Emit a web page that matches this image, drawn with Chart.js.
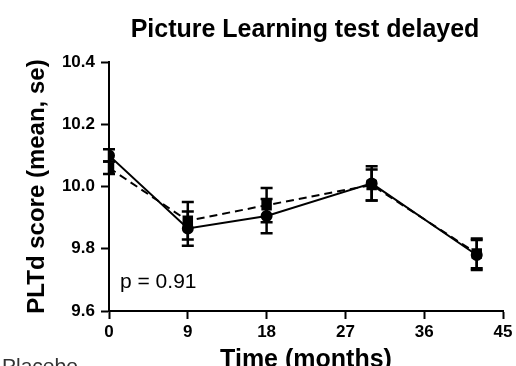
<!DOCTYPE html>
<html>
<head>
<meta charset="utf-8">
<script src="https://cdn.jsdelivr.net/npm/chart.js@4/dist/chart.umd.min.js"></script>
<style>
  html, body { margin: 0; padding: 0; background: #fff; }
  #wrap { position: relative; width: 516px; height: 366px; overflow: hidden; }
</style>
</head>
<body>
<div id="wrap"><canvas id="chart" width="516" height="366"></canvas></div>
<script>
// months of follow-up
const months = [0, 9, 18, 30, 42];
// solid line, round markers
const circleMeans = [10.10, 9.865, 9.905, 10.01, 9.78];
const circleSe = [0.02, 0.055, 0.055, 0.055, 0.048];
// dashed line, square markers
const squareMeans = [10.06, 9.89, 9.94, 10.005, 9.785];
const squareSe = [0.02, 0.06, 0.055, 0.05, 0.048];

const xTicks = [0, 9, 18, 27, 36, 45];
const yTicks = [9.6, 9.8, 10.0, 10.2, 10.4];

const FONT = "'Liberation Sans', Arial, Helvetica, sans-serif";

const toPoints = (vals) => months.map((m, i) => ({ x: m, y: vals[i] }));

// draws the se whiskers from the datasets' own scales
const errorBars = {
  id: "errorBars",
  afterDatasetsDraw(chart) {
    const { ctx, scales } = chart;
    ctx.save();
    ctx.strokeStyle = "#000";
    ctx.lineWidth = 2.5;
    chart.data.datasets.forEach((ds) => {
      ds.data.forEach((p, i) => {
        const x = scales.x.getPixelForValue(p.x);
        const top = scales.y.getPixelForValue(p.y + ds.se[i]);
        const bot = scales.y.getPixelForValue(p.y - ds.se[i]);
        ctx.beginPath();
        ctx.moveTo(x, top);
        ctx.lineTo(x, bot);
        ctx.moveTo(x - 6, top);
        ctx.lineTo(x + 6, top);
        ctx.moveTo(x - 6, bot);
        ctx.lineTo(x + 6, bot);
        ctx.stroke();
      });
    });
    ctx.restore();
  },
};

// title, axis titles, p value and the clipped legend text
const labels = {
  id: "labels",
  afterDraw(chart) {
    const { ctx, chartArea } = chart;
    const cx = (chartArea.left + chartArea.right) / 2;
    ctx.save();
    ctx.fillStyle = "#000";
    ctx.textAlign = "center";
    ctx.textBaseline = "alphabetic";
    ctx.font = "bold 25px " + FONT;
    ctx.fillText("Picture Learning test delayed", 305, 37);

    ctx.font = "bold 25px " + FONT;
    ctx.fillText("Time (months)", cx, 367);

    ctx.save();
    ctx.translate(44, (chartArea.top + chartArea.bottom) / 2);
    ctx.rotate(-Math.PI / 2);
    ctx.font = "bold 24px " + FONT;
    ctx.fillText("PLTd score (mean, se)", 0, 0);
    ctx.restore();

    ctx.textAlign = "left";
    ctx.font = "21px " + FONT;
    ctx.fillText("p = 0.91", 120, 288);

    ctx.fillStyle = "#333";
    ctx.font = "21px " + FONT;
    ctx.fillText("Placebo", 2, 373);
    ctx.restore();
  },
};

const ctx = document.getElementById("chart").getContext("2d");
new Chart(ctx, {
  type: "line",
  data: {
    datasets: [
      {
        label: "circle",
        data: toPoints(circleMeans),
        se: circleSe,
        borderColor: "#000",
        backgroundColor: "#000",
        borderWidth: 2,
        pointStyle: "circle",
        pointRadius: 5,
        tension: 0,
      },
      {
        label: "square",
        data: toPoints(squareMeans),
        se: squareSe,
        borderColor: "#000",
        backgroundColor: "#000",
        borderWidth: 2,
        borderDash: [8, 5],
        pointStyle: "rect",
        pointRadius: 6,
        tension: 0,
      },
    ],
  },
  options: {
    responsive: false,
    animation: false,
    layout: { padding: { left: 0, top: 62, right: 13, bottom: 0 } },
    plugins: {
      legend: { display: false },
      tooltip: { enabled: false },
    },
    scales: {
      x: {
        type: "linear",
        min: 0,
        max: 45,
        afterFit: (s) => { s.height = 55; },
        afterBuildTicks: (s) => { s.ticks = xTicks.map((v) => ({ value: v })); },
        grid: {
          drawOnChartArea: false,
          drawTicks: true,
          tickLength: 8,
          tickWidth: 2,
          color: "#000",
        },
        border: { color: "#000", width: 2 },
        ticks: {
          color: "#000",
          padding: 3,
          font: { family: FONT, size: 17, weight: "bold" },
          callback: (v) => String(v),
        },
      },
      y: {
        min: 9.6,
        max: 10.4,
        afterFit: (s) => { s.width = 109; },
        afterBuildTicks: (s) => { s.ticks = yTicks.map((v) => ({ value: v })); },
        grid: {
          drawOnChartArea: false,
          drawTicks: true,
          tickLength: 8,
          tickWidth: 2,
          color: "#000",
        },
        border: { color: "#000", width: 2 },
        ticks: {
          color: "#000",
          padding: 6,
          font: { family: FONT, size: 17, weight: "bold" },
          callback: (v) => Number(v).toFixed(1),
        },
      },
    },
  },
  plugins: [errorBars, labels],
});
</script>
</body>
</html>
